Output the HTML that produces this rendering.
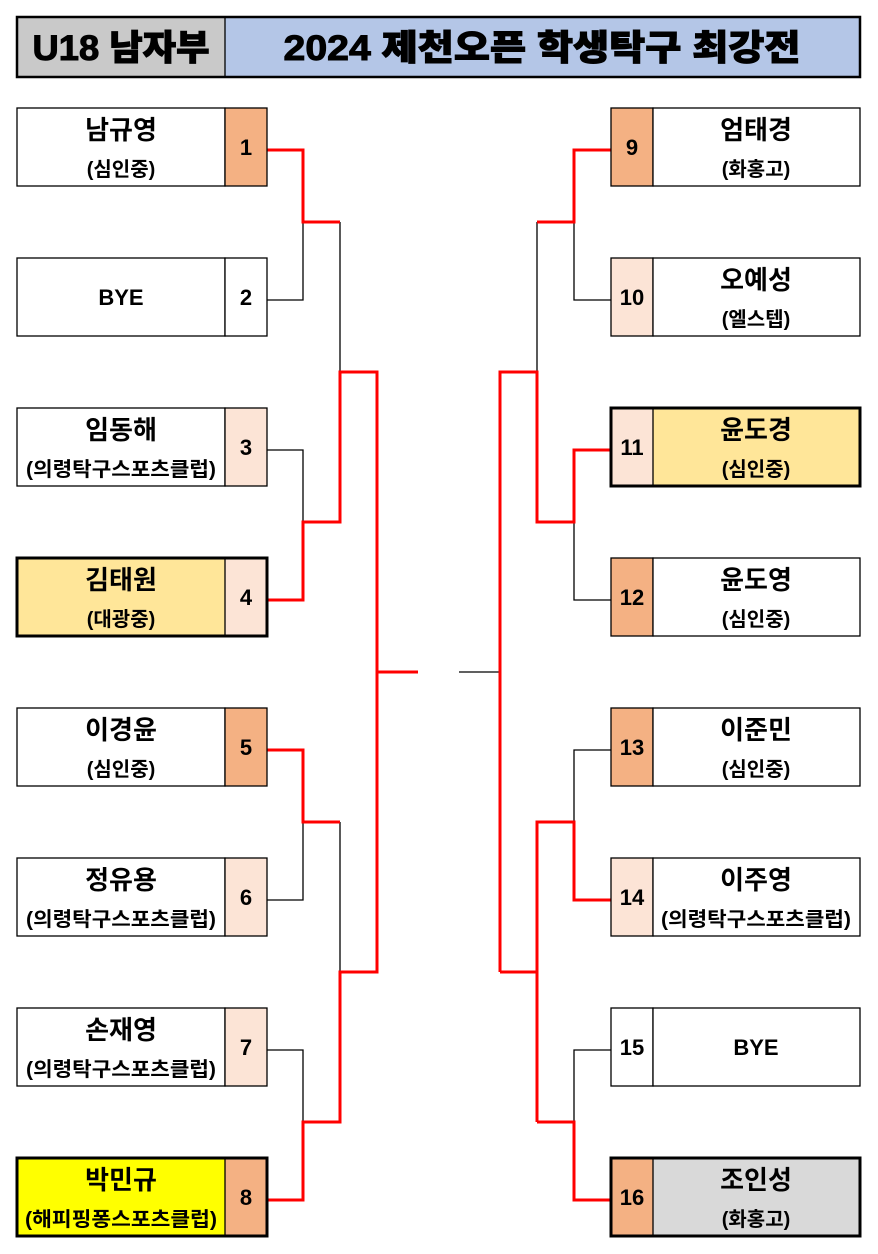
<!DOCTYPE html>
<html><head><meta charset="utf-8"><style>
html,body{margin:0;padding:0;background:#fff;width:878px;height:1254px;overflow:hidden}
svg{display:block}
text{font-family:"Liberation Sans","Noto Sans CJK KR",sans-serif;font-weight:bold;fill:#000;text-anchor:middle}
.n{font-size:26px}.a{font-size:20px}.s{font-size:22px}
.t{stroke:#000;stroke-width:1.3;fill:none}
.r{stroke:#f00;stroke-width:3;fill:none}
</style></head><body>
<svg width="878" height="1254" viewBox="0 0 878 1254">
<rect x="17" y="17" width="208" height="60" fill="#c9c9c9"/>
<rect x="225" y="17" width="635" height="60" fill="#b4c6e7"/>
<rect x="17" y="17" width="843" height="60" fill="none" stroke="#000" stroke-width="2.5"/>
<line x1="225" y1="17" x2="225" y2="77" stroke="#000" stroke-width="1.3"/>
<text x="121" y="60" style="font-size:35px;font-weight:900;stroke:#000;stroke-width:1" textLength="177" lengthAdjust="spacingAndGlyphs">U18 남자부</text>
<text x="542" y="60" style="font-size:35px;font-weight:900;stroke:#000;stroke-width:1" textLength="517" lengthAdjust="spacingAndGlyphs">2024 제천오픈 학생탁구 최강전</text>

<path class="t" d="M267 150H303V300H267M303 222H340M267 450H303V600H267M303 522H340M340 222V522M340 372H377
M267 750H303V900H267M303 822H340M267 1050H303V1200H267M303 1122H340M340 822V1122M340 972H377M377 372V972M377 672H418"/>
<path class="t" d="M611 150H574V300H611M574 222H537M611 450H574V600H611M574 522H537M537 222V522M537 372H500
M611 750H574V900H611M574 822H537M611 1050H574V1200H611M574 1122H537M537 822V1122M537 972H500M500 372V972M500 672H459"/>
<path class="r" d="M267 150H303V222H340"/>
<path class="r" d="M267 600H303V522H340V372H377V672H418"/>
<path class="r" d="M267 750H303V822H340"/>
<path class="r" d="M267 1200H303V1122H340V972H377V672"/>
<path class="r" d="M611 150H574V222H537"/>
<path class="r" d="M611 450H574V522H537V372H500V972"/>
<path class="r" d="M611 900H574V822H537V1122"/>
<path class="r" d="M611 1200H574V1122H537M537 972H500"/>

<g>
<rect x="17" y="108" width="208" height="78" fill="#fff" stroke="#000" stroke-width="1.3"/><rect x="225" y="108" width="42" height="78" fill="#f4b183" stroke="#000" stroke-width="1.3"/>
<text class="n" x="121" y="139">남규영</text><text class="a" x="121" y="176">(심인중)</text><text class="s" x="246" y="155">1</text>

<rect x="17" y="258" width="208" height="78" fill="#fff" stroke="#000" stroke-width="1.3"/><rect x="225" y="258" width="42" height="78" fill="#fff" stroke="#000" stroke-width="1.3"/>
<text class="s" x="121" y="305">BYE</text><text class="s" x="246" y="305">2</text>

<rect x="17" y="408" width="208" height="78" fill="#fff" stroke="#000" stroke-width="1.3"/><rect x="225" y="408" width="42" height="78" fill="#fce4d6" stroke="#000" stroke-width="1.3"/>
<text class="n" x="121" y="439">임동해</text><text class="a" x="121" y="476" textLength="190" lengthAdjust="spacingAndGlyphs">(의령탁구스포츠클럽)</text><text class="s" x="246" y="455">3</text>

<rect x="17" y="558" width="208" height="78" fill="#ffe699"/><rect x="225" y="558" width="42" height="78" fill="#fce4d6"/>
<line x1="225" y1="558" x2="225" y2="636" stroke="#000" stroke-width="1.3"/><rect x="17" y="558" width="250" height="78" fill="none" stroke="#000" stroke-width="3"/>
<text class="n" x="121" y="589">김태원</text><text class="a" x="121" y="626">(대광중)</text><text class="s" x="246" y="605">4</text>

<rect x="17" y="708" width="208" height="78" fill="#fff" stroke="#000" stroke-width="1.3"/><rect x="225" y="708" width="42" height="78" fill="#f4b183" stroke="#000" stroke-width="1.3"/>
<text class="n" x="121" y="739">이경윤</text><text class="a" x="121" y="776">(심인중)</text><text class="s" x="246" y="755">5</text>

<rect x="17" y="858" width="208" height="78" fill="#fff" stroke="#000" stroke-width="1.3"/><rect x="225" y="858" width="42" height="78" fill="#fce4d6" stroke="#000" stroke-width="1.3"/>
<text class="n" x="121" y="889">정유용</text><text class="a" x="121" y="926" textLength="190" lengthAdjust="spacingAndGlyphs">(의령탁구스포츠클럽)</text><text class="s" x="246" y="905">6</text>

<rect x="17" y="1008" width="208" height="78" fill="#fff" stroke="#000" stroke-width="1.3"/><rect x="225" y="1008" width="42" height="78" fill="#fce4d6" stroke="#000" stroke-width="1.3"/>
<text class="n" x="121" y="1039">손재영</text><text class="a" x="121" y="1076" textLength="190" lengthAdjust="spacingAndGlyphs">(의령탁구스포츠클럽)</text><text class="s" x="246" y="1055">7</text>

<rect x="17" y="1158" width="208" height="78" fill="#ffff00"/><rect x="225" y="1158" width="42" height="78" fill="#f4b183"/>
<line x1="225" y1="1158" x2="225" y2="1236" stroke="#000" stroke-width="1.3"/><rect x="17" y="1158" width="250" height="78" fill="none" stroke="#000" stroke-width="3"/>
<text class="n" x="121" y="1189">박민규</text><text class="a" x="121" y="1226" textLength="192" lengthAdjust="spacingAndGlyphs">(해피핑퐁스포츠클럽)</text><text class="s" x="246" y="1205">8</text>
</g>

<g>
<rect x="611" y="108" width="42" height="78" fill="#f4b183" stroke="#000" stroke-width="1.3"/><rect x="653" y="108" width="207" height="78" fill="#fff" stroke="#000" stroke-width="1.3"/>
<text class="n" x="756" y="139">엄태경</text><text class="a" x="756" y="176">(화홍고)</text><text class="s" x="632" y="155">9</text>

<rect x="611" y="258" width="42" height="78" fill="#fce4d6" stroke="#000" stroke-width="1.3"/><rect x="653" y="258" width="207" height="78" fill="#fff" stroke="#000" stroke-width="1.3"/>
<text class="n" x="756" y="289">오예성</text><text class="a" x="756" y="326">(엘스텝)</text><text class="s" x="632" y="305">10</text>

<rect x="611" y="408" width="42" height="78" fill="#fce4d6"/><rect x="653" y="408" width="207" height="78" fill="#ffe699"/>
<line x1="653" y1="408" x2="653" y2="486" stroke="#000" stroke-width="1.3"/><rect x="611" y="408" width="249" height="78" fill="none" stroke="#000" stroke-width="3"/>
<text class="n" x="756" y="439">윤도경</text><text class="a" x="756" y="476">(심인중)</text><text class="s" x="632" y="455">11</text>

<rect x="611" y="558" width="42" height="78" fill="#f4b183" stroke="#000" stroke-width="1.3"/><rect x="653" y="558" width="207" height="78" fill="#fff" stroke="#000" stroke-width="1.3"/>
<text class="n" x="756" y="589">윤도영</text><text class="a" x="756" y="626">(심인중)</text><text class="s" x="632" y="605">12</text>

<rect x="611" y="708" width="42" height="78" fill="#f4b183" stroke="#000" stroke-width="1.3"/><rect x="653" y="708" width="207" height="78" fill="#fff" stroke="#000" stroke-width="1.3"/>
<text class="n" x="756" y="739">이준민</text><text class="a" x="756" y="776">(심인중)</text><text class="s" x="632" y="755">13</text>

<rect x="611" y="858" width="42" height="78" fill="#fce4d6" stroke="#000" stroke-width="1.3"/><rect x="653" y="858" width="207" height="78" fill="#fff" stroke="#000" stroke-width="1.3"/>
<text class="n" x="756" y="889">이주영</text><text class="a" x="756" y="926" textLength="190" lengthAdjust="spacingAndGlyphs">(의령탁구스포츠클럽)</text><text class="s" x="632" y="905">14</text>

<rect x="611" y="1008" width="42" height="78" fill="#fff" stroke="#000" stroke-width="1.3"/><rect x="653" y="1008" width="207" height="78" fill="#fff" stroke="#000" stroke-width="1.3"/>
<text class="s" x="756" y="1055">BYE</text><text class="s" x="632" y="1055">15</text>

<rect x="611" y="1158" width="42" height="78" fill="#f4b183"/><rect x="653" y="1158" width="207" height="78" fill="#d9d9d9"/>
<line x1="653" y1="1158" x2="653" y2="1236" stroke="#000" stroke-width="1.3"/><rect x="611" y="1158" width="249" height="78" fill="none" stroke="#000" stroke-width="3"/>
<text class="n" x="756" y="1189">조인성</text><text class="a" x="756" y="1226">(화홍고)</text><text class="s" x="632" y="1205">16</text>
</g>
</svg>
</body></html>
